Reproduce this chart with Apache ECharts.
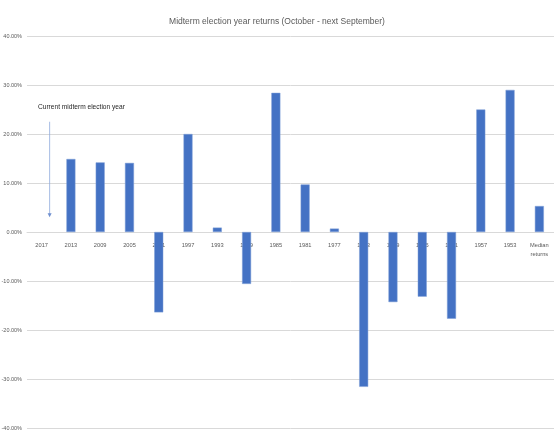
<!DOCTYPE html>
<html>
<head>
<meta charset="utf-8">
<script src="https://cdn.jsdelivr.net/npm/echarts@6/dist/echarts.min.js"></script>
<style>html,body{margin:0;padding:0;background:#fff}#c{width:554px;height:434px}</style>
</head>
<body>
<div id="c"></div>
<script>
var categories = ['2017','2013','2009','2005','2001','1997','1993','1989','1985','1981','1977','1973','1969','1965','1961','1957','1953','Median\nreturns'];
var returns = [null, 14.9, 14.2, 14.1, -16.4, 20.0, 0.9, -10.6, 28.4, 9.7, 0.7, -31.6, -14.3, -13.2, -17.7, 25.0, 29.0, 5.3];
var yTicks = { min: -40, max: 40, interval: 10 };
var titleText = 'Midterm election year returns (October - next September)';
var noteText = 'Current midterm election year';

var FONT = "'Liberation Sans', Arial, sans-serif";

var chart = echarts.init(document.getElementById('c'), null, { renderer: 'canvas' });
chart.setOption({
  animation: false,
  backgroundColor: '#fff',
  title: {
    text: titleText, left: 'center', top: 12,
    textStyle: { fontFamily: FONT, fontSize: 8.5, fontWeight: 'normal', color: '#595959' }
  },
  grid: { left: 27, right: 0, top: 36, bottom: 6, containLabel: false, outerBoundsMode: 'none' },
  xAxis: {
    type: 'category', data: categories, offset: -196,
    axisLine: { onZero: false, lineStyle: { color: '#d9d9d9', width: 1 } },
    axisTick: { show: false },
    axisLabel: { fontFamily: FONT, fontSize: 5.7, color: '#595959', margin: 9, interval: 0, lineHeight: 9 }
  },
  yAxis: {
    type: 'value', min: yTicks.min, max: yTicks.max, interval: yTicks.interval,
    axisLine: { show: false }, axisTick: { show: false },
    splitLine: { lineStyle: { color: '#d9d9d9', width: 1 } },
    axisLabel: { fontFamily: FONT, fontSize: 5.5, color: '#595959', margin: 5,
      formatter: function (v) { return v.toFixed(2) + '%'; } }
  },
  series: [{
    type: 'bar', data: returns, barWidth: 9,
    itemStyle: { color: '#4472c4', borderColor: '#7f9fd6', borderWidth: 0.5 }
  }]
});

var p0 = chart.convertToPixel({ xAxisIndex: 0, yAxisIndex: 0 }, [0, 22.5]);
var p1 = chart.convertToPixel({ xAxisIndex: 0, yAxisIndex: 0 }, [0, 3]);
var ax = p0[0] + 8;
chart.setOption({
  graphic: [
    { type: 'text', left: 38, top: p0[1] - 18,
      style: { text: noteText, font: '6.6px ' + FONT, fill: '#262626' } },
    { type: 'line', shape: { x1: ax, y1: p0[1], x2: ax, y2: p1[1] - 3 },
      style: { stroke: '#8faadc', lineWidth: 0.8 } },
    { type: 'polygon', shape: { points: [[ax - 2, p1[1] - 4], [ax + 2, p1[1] - 4], [ax, p1[1]]] },
      style: { fill: '#6f8fcf' } }
  ]
});
</script>
</body>
</html>
